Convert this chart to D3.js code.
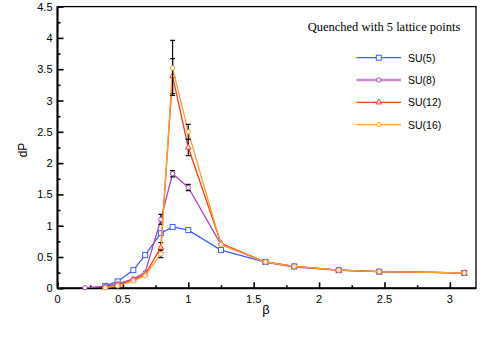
<!DOCTYPE html>
<html>
<head>
<meta charset="utf-8">
<script src="https://cdn.jsdelivr.net/npm/d3@7"></script>
<style>
  body { margin: 0; background: #fff; }
  svg { display: block; }
  text { font-family: "Liberation Sans", Arial, sans-serif; fill: #000; }
</style>
</head>
<body>
<div id="graph"></div>
<script>
// Données
const betaLow = [0.365, 0.46, 0.58, 0.67, 0.79, 0.88, 1.0, 1.25, 1.59, 1.81, 2.15, 2.46, 3.11]
const beta8 = [0.21, 0.365, 0.46, 0.58, 0.67, 0.79, 0.88, 1.0, 1.25, 1.59, 1.81, 2.15, 2.46, 3.11]

const su5 = [0.04, 0.11, 0.29, 0.53, 0.88, 0.98, 0.93, 0.61, 0.42, 0.35, 0.29, 0.265, 0.245]
const su8 = [0.01, 0.03, 0.07, 0.15, 0.25, 1.10, 1.83, 1.61, 0.70, 0.42, 0.34, 0.29, 0.265, 0.245]
const su12 = [0.02, 0.05, 0.13, 0.22, 0.65, 3.39, 2.25, 0.72, 0.42, 0.35, 0.29, 0.265, 0.245]
const su16 = [0.01, 0.04, 0.12, 0.20, 0.55, 3.52, 2.50, 0.70, 0.42, 0.35, 0.29, 0.265, 0.245]

const err5 = [0, 0, 0, 0, 0, 0, 0, 0, 0, 0, 0, 0, 0]
const err8 = [0, 0, 0, 0, 0, 0.08, 0.05, 0.05, 0, 0, 0, 0, 0, 0]
const err12 = [0, 0, 0, 0, 0.08, 0.28, 0.13, 0, 0, 0, 0, 0, 0]
const err16 = [0, 0, 0, 0, 0.06, 0.44, 0.12, 0, 0, 0, 0, 0, 0]

const seriesNames = ['SU(5)', 'SU(8)', 'SU(12)', 'SU(16)']
const xTicks = [0, 0.5, 1, 1.5, 2, 2.5, 3]
const yTicks = [0, 0.5, 1, 1.5, 2, 2.5, 3, 3.5, 4, 4.5]

const series = [
  { name: seriesNames[0], x: betaLow, y: su5, err: err5, color: '#3a5cff', legColor: '#3a5cff', shape: 'square', legW: 1.3 },
  { name: seriesNames[1], x: beta8, y: su8, err: err8, color: '#a54bb5', legColor: '#c98ad0', shape: 'circle', legW: 2.5 },
  { name: seriesNames[2], x: betaLow, y: su12, err: err12, color: '#ff3b1a', legColor: '#ff3b1a', shape: 'triangle', legW: 1.3 },
  { name: seriesNames[3], x: betaLow, y: su16, err: err16, color: '#ffa030', legColor: '#ffa030', shape: 'circle', legW: 1.3 }
]

//---------------------------------------------------------------------------------------

const width = 485
const height = 346

const svg = d3.select('#graph')
  .append('svg')
  .attr('width', width)
  .attr('height', height)

const scaleX = d3.scaleLinear().domain([0, 3.2]).range([57.5, 476])
const scaleY = d3.scaleLinear().domain([0, 4.5]).range([288.3, 6.6])

// Cadre
svg.append('rect')
  .attr('x', scaleX(0))
  .attr('y', scaleY(4.5))
  .attr('width', scaleX(3.2) - scaleX(0))
  .attr('height', scaleY(0) - scaleY(4.5))
  .attr('fill', 'none')
  .attr('stroke', '#000')
  .attr('stroke-width', 1.3)

// Axe X (ticks vers l'intérieur)
const axisX = svg.append('g')
  .attr('transform', `translate(0,${scaleY(0)})`)
  .call(d3.axisBottom(scaleX).tickValues(d3.range(0, 3.01, 0.25)).tickSize(-6).tickFormat(''))
axisX.selectAll('.tick line')
  .attr('stroke-width', 1.6)
  .attr('y2', d => (Math.round(d * 100) % 50 === 0) ? -6 : -3)
axisX.select('.domain').attr('stroke-width', 2).attr('d', `M${scaleX(0)},0H${scaleX(3.2)}`)

svg.append('g')
  .selectAll('text')
  .data(xTicks)
  .join('text')
  .attr('x', d => scaleX(d))
  .attr('y', scaleY(0) + 15)
  .attr('text-anchor', 'middle')
  .attr('font-size', 11)
  .text(d => d)

// Axe Y
const axisY = svg.append('g')
  .attr('transform', `translate(${scaleX(0)},0)`)
  .call(d3.axisLeft(scaleY).tickValues(d3.range(0, 4.51, 0.25)).tickSize(-6).tickFormat(''))
axisY.selectAll('.tick line')
  .attr('stroke-width', 1.6)
  .attr('x2', d => (Math.round(d * 100) % 50 === 0) ? 6 : 3)
axisY.select('.domain').attr('stroke-width', 2).attr('d', `M0,${scaleY(0)}V${scaleY(4.5)}`)

svg.append('g')
  .selectAll('text')
  .data(yTicks)
  .join('text')
  .attr('x', scaleX(0) - 5)
  .attr('y', d => scaleY(d) + 4)
  .attr('text-anchor', 'end')
  .attr('font-size', 11)
  .text(d => d)

// Titres des axes
svg.append('text')
  .attr('transform', `translate(27,150) rotate(-90)`)
  .attr('text-anchor', 'middle')
  .attr('font-size', 12)
  .text('dP')

svg.append('text')
  .attr('x', 266)
  .attr('y', 314)
  .attr('text-anchor', 'middle')
  .attr('font-size', 13)
  .text('β')

//---------------------------------------------------------------------------------------

// Symboles
const drawMarker = (g, shape, color, cx, cy) => {
  if (shape === 'square') {
    g.append('rect').attr('x', cx - 2.5).attr('y', cy - 2.5).attr('width', 5).attr('height', 5)
      .attr('fill', '#fff').attr('stroke', color).attr('stroke-width', 1)
  } else if (shape === 'triangle') {
    g.append('path').attr('d', d3.symbol(d3.symbolTriangle, 14)()).attr('transform', `translate(${cx},${cy})`)
      .attr('fill', '#fff').attr('stroke', color).attr('stroke-width', 1)
  } else {
    g.append('circle').attr('cx', cx).attr('cy', cy).attr('r', 2.2)
      .attr('fill', '#fff').attr('stroke', color).attr('stroke-width', 1)
  }
}

const line = d3.line().x(d => scaleX(d[0])).y(d => scaleY(d[1]))

series.forEach(s => {
  const pts = s.x.map((b, i) => [b, s.y[i], s.err[i]])
  const g = svg.append('g')

  g.append('path')
    .attr('d', line(pts))
    .attr('fill', 'none')
    .attr('stroke', s.color)
    .attr('stroke-width', 1.3)

  // barres d'erreur
  pts.filter(p => p[2] > 0).forEach(p => {
    const cx = scaleX(p[0])
    const y0 = scaleY(p[1] - p[2])
    const y1 = scaleY(p[1] + p[2])
    g.append('path')
      .attr('d', `M${cx},${y0}V${y1}M${cx - 2.5},${y0}H${cx + 2.5}M${cx - 2.5},${y1}H${cx + 2.5}`)
      .attr('stroke', '#111')
      .attr('stroke-width', 1.2)
      .attr('fill', 'none')
  })

  pts.forEach(p => drawMarker(g, s.shape, s.color, scaleX(p[0]), scaleY(p[1])))
})

//---------------------------------------------------------------------------------------

// Légende
svg.append('text')
  .attr('x', 384)
  .attr('y', 31)
  .attr('text-anchor', 'middle')
  .attr('font-size', 12.5)
  .style('font-family', '"Liberation Serif", "Times New Roman", serif')
  .text('Quenched with 5 lattice points')

const legend = svg.append('g')
series.forEach((s, i) => {
  const ly = 57.7 + i * 22.3
  legend.append('line')
    .attr('x1', 356.5).attr('x2', 401)
    .attr('y1', ly).attr('y2', ly)
    .attr('stroke', s.legColor)
    .attr('stroke-width', s.legW)
  drawMarker(legend, s.shape, s.color, 378.8, ly)
  legend.append('text')
    .attr('x', 408)
    .attr('y', ly + 4)
    .attr('font-size', 10.5)
    .text(s.name)
})
</script>
</body>
</html>
